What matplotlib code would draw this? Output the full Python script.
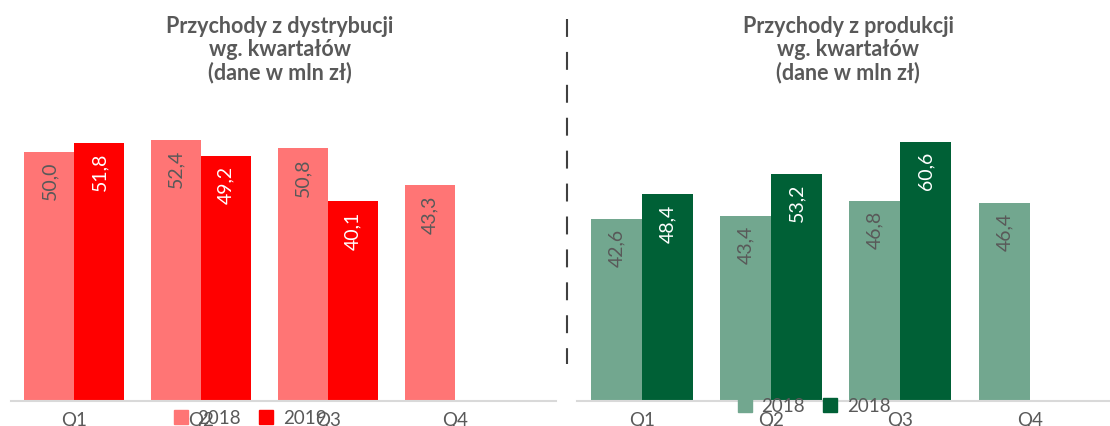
import numpy as np
import matplotlib
matplotlib.use("Agg")
import matplotlib.pyplot as plt
from matplotlib.lines import Line2D
from matplotlib.patches import Patch

plt.rcParams['font.family'] = ['Lato', 'DejaVu Sans']

# data
quarters = ["Q1", "Q2", "Q3", "Q4"]
dist_2018 = [50.0, 52.4, 50.8, 43.3]
dist_2019 = [51.8, 49.2, 40.1]
prod_2018 = [42.6, 43.4, 46.8, 46.4]
prod_2019 = [48.4, 53.2, 60.6]

dist_title = "Przychody z dystrybucji\nwg. kwartałów\n(dane w mln zł)"
prod_title = "Przychody z produkcji\nwg. kwartałów\n(dane w mln zł)"
dist_legend = ["2018", "2019"]
prod_legend = ["2018", "2018"]  # as in the original

c_dist_light, c_dist_dark = "#FF7575", "#FF0000"
c_prod_light, c_prod_dark = "#72A78F", "#006036"
grey = "#595959"

W, H = 1110, 427
fig = plt.figure(figsize=(W / 100, H / 100), dpi=100)


def px_axes(x0, x1, ytop, ybot):
    return fig.add_axes([x0 / W, (H - ybot) / H, (x1 - x0) / W, (ybot - ytop) / H])


def fmt(v):
    return f"{v:.1f}".replace(".", ",")


def draw(ax, v_light, v_dark, c_light, c_dark, xlim, ylim):
    bw = 0.394
    x = np.arange(len(quarters))
    b1 = ax.bar(x[:len(v_light)] - bw / 2, v_light, bw, color=c_light)
    b2 = ax.bar(x[:len(v_dark)] + bw / 2, v_dark, bw, color=c_dark)
    for bars, vals, col in ((b1, v_light, grey), (b2, v_dark, "white")):
        for b, v in zip(bars, vals):
            ax.annotate(fmt(v), (b.get_x() + b.get_width() / 2, v),
                        xytext=(0, -9), textcoords="offset pixels",
                        rotation=90, ha="center", va="top",
                        color=col, fontsize=14)
    ax.set_xlim(*xlim)
    ax.set_ylim(0, ylim)
    ax.set_xticks(x)
    ax.set_xticklabels(quarters, color=grey, fontsize=13.5)
    ax.tick_params(axis="x", length=0, pad=7)
    ax.set_yticks([])
    for s in ("top", "right", "left"):
        ax.spines[s].set_visible(False)
    ax.spines["bottom"].set_color("#D9D9D9")
    ax.spines["bottom"].set_linewidth(1.5)
    ax.patch.set_alpha(0)


ax1 = px_axes(11, 556, 20, 402)
draw(ax1, dist_2018, dist_2019, c_dist_light, c_dist_dark, (-0.5, 3.8), 382 / 4.98)
ax2 = px_axes(577, 1110, 20, 402)
draw(ax2, prod_2018, prod_2019, c_prod_light, c_prod_dark, (-0.5, 3.62), 382 / 4.27)

fig.text(280 / W, 1 - 16 / H, dist_title, ha="center", va="top", fontsize=15.5,
         fontweight="bold", color=grey, linespacing=1.1)
fig.text(848 / W, 1 - 16 / H, prod_title, ha="center", va="top", fontsize=15.5,
         fontweight="bold", color=grey, linespacing=1.1)

# legends
for labels, cols, xc, yc in ((dist_legend, (c_dist_light, c_dist_dark), 250, 419),
                             (prod_legend, (c_prod_light, c_prod_dark), 814, 407)):
    handles = [Patch(color=c) for c in cols]
    fig.legend(handles, labels, loc="center", bbox_to_anchor=(xc / W, 1 - yc / H),
               ncol=2, frameon=False, fontsize=13.5, labelcolor=grey,
               handlelength=0.75, handleheight=0.75, handletextpad=0.5,
               columnspacing=1.0, borderpad=0)

# dashed separator
fig.add_artist(Line2D([566.5 / W, 566.5 / W], [1 - 20 / H, 1 - 365 / H],
                      color="#404040", linewidth=1.5, dashes=(8.6, 7.2)))

fig.savefig("out.png", dpi=100)
